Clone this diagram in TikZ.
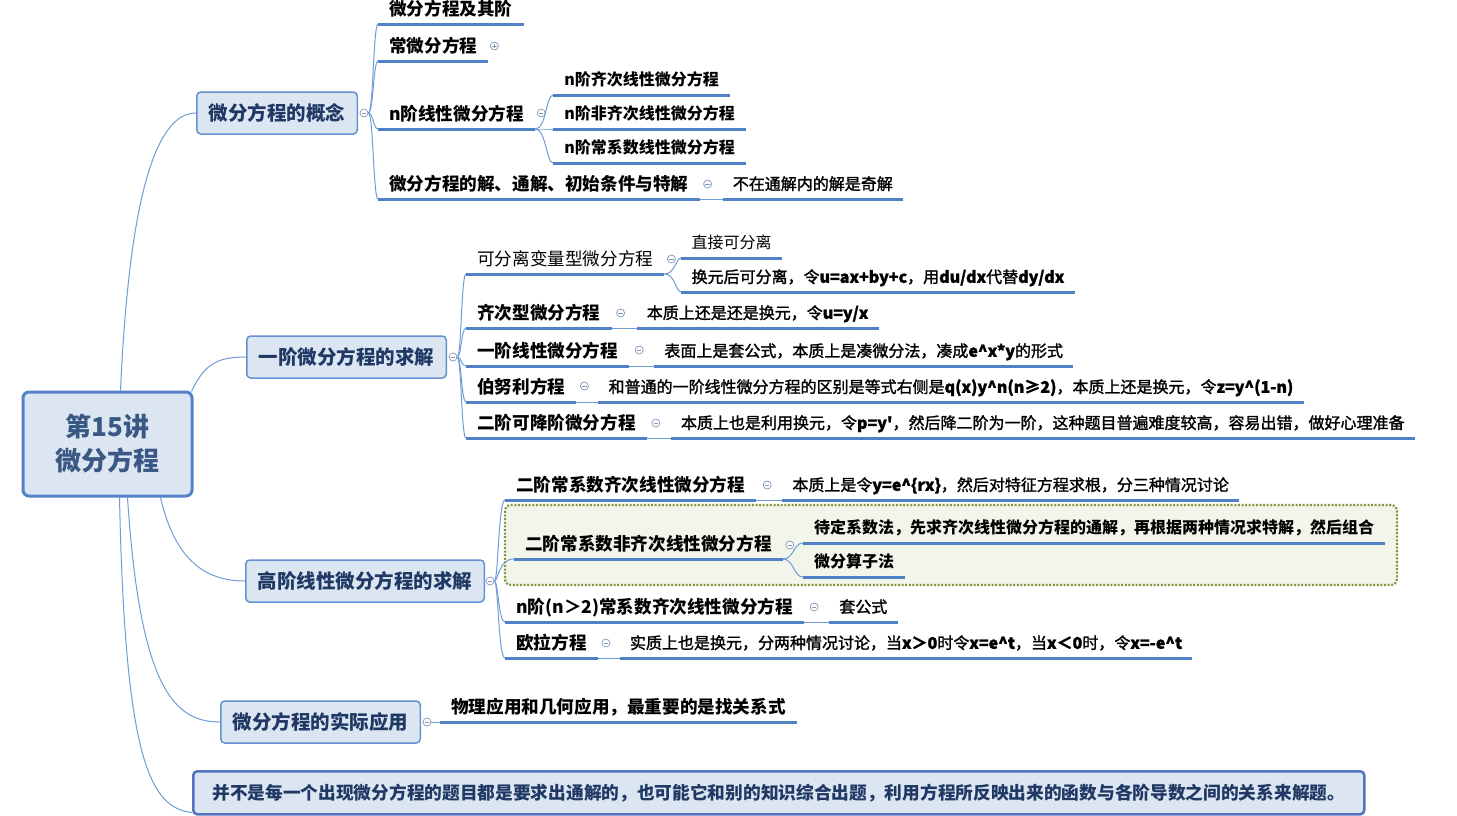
\documentclass[tikz,border=0pt]{standalone}
\usepackage{fontspec}
\newfontfamily\cjk{Noto Sans CJK SC}
\newfontfamily\cjkmed{Noto Sans CJK SC}[FakeBold=1.5]
\usetikzlibrary{calc}

\definecolor{boxfill}{RGB}{220,230,242}
\definecolor{boxline}{RGB}{100,145,208}
\definecolor{ctrline}{RGB}{84,130,200}
\definecolor{ulblue}{RGB}{79,129,196}
\definecolor{connblue}{RGB}{112,156,216}
\definecolor{topictext}{RGB}{32,56,100}
\definecolor{ctrtext}{RGB}{58,88,132}
\definecolor{foldgray}{RGB}{130,150,185}
\definecolor{regline}{RGB}{130,150,60}
\definecolor{regfill}{RGB}{242,245,234}
\definecolor{noteline}{RGB}{85,115,190}

\tikzset{
  ctrbox/.style={draw=ctrline, line width=3pt, fill=boxfill, rounded corners=6pt,
    minimum width=169pt, minimum height=104pt, align=center, text=ctrtext,
    font=\cjk\bfseries\fontsize{26}{34}\selectfont},
  topic/.style={draw=boxline, line width=1.5pt, fill=boxfill, rounded corners=4pt,
    minimum height=42pt, inner xsep=12pt, text=topictext,
    font=\cjk\bfseries\fontsize{19.5}{22}\selectfont},
  head/.style={anchor=south west, inner xsep=11pt, inner ysep=3pt, text height=14pt,
    text depth=5pt, font=\cjk\bfseries\fontsize{17.6}{20}\selectfont},
  headthin/.style={head, font=\cjk\fontsize{17.6}{20}\selectfont},
  sub/.style={head, text height=13pt, text depth=6pt,
    font=\cjk\bfseries\fontsize{16}{19}\selectfont},
  detail/.style={sub, inner xsep=10pt, font=\cjkmed\fontsize{16}{19}\selectfont},
  detailthin/.style={detail, font=\cjk\fontsize{16}{19}\selectfont},
  uline/.style={draw=ulblue, line width=3pt},
  conn/.style={draw=connblue, line width=1pt},
  fold/.style={circle, draw=foldgray, line width=0.7pt, fill=white, minimum size=8pt,
    inner sep=0pt, path picture={\draw[foldgray, line width=0.7pt]
      ([xshift=1.8pt]path picture bounding box.west) -- ([xshift=-1.8pt]path picture bounding box.east);}},
  foldplus/.style={circle, draw=foldgray, line width=0.7pt, fill=white, minimum size=8pt,
    inner sep=0pt, path picture={\draw[foldgray, line width=0.7pt]
      ([xshift=1.8pt]path picture bounding box.west) -- ([xshift=-1.8pt]path picture bounding box.east)
      ([yshift=-1.8pt]path picture bounding box.north) -- ([yshift=1.8pt]path picture bounding box.south);}},
  note/.style={draw=noteline, line width=2.5pt, fill=boxfill, rounded corners=4pt,
    minimum width=1171pt, minimum height=43pt, text=topictext,
    font=\cjk\bfseries\fontsize{17.7}{20}\selectfont},
  region/.style={draw=regline, line width=2.2pt, dash pattern=on 2pt off 1.6pt,
    fill=regfill, rounded corners=6pt},
}

\begin{document}
\begin{tikzpicture}[x=1pt, y=-1pt]
  \useasboundingbox (0,0) rectangle (1457,815);
  \fill[white] (0,0) rectangle (1457,815);

  % underline below a node, and a curved branch from a parent to a child
  \def\underl#1{\draw[uline] (#1.south west) -- (#1.south east);}
  \def\branch#1#2#3{\draw[conn] (#1) .. controls (#2) and (#2 |- #3) .. (#3);}

  % boundary round the non-homogeneous case
  \draw[region] (505,505) rectangle (1397,585);

  % centre and main topics
  \node[ctrbox] (ctr) at (107.5,444) {第15讲\\微分方程};
  \node[topic, anchor=west] (t1) at (196,113) {微分方程的概念};
  \node[topic, anchor=west] (t2) at (246,357) {一阶微分方程的求解};
  \node[topic, anchor=west] (t3) at (245,581) {高阶线性微分方程的求解};
  \node[topic, anchor=west] (t4) at (220,722) {微分方程的实际应用};
  \node[note, anchor=north west] (note) at (192,770)
    {并不是每一个出现微分方程的题目都是要求出通解的，也可能它和别的知识综合出题，利用方程所反映出来的函数与各阶导数之间的关系来解题。};

  \node[fold] (o1) at ($(t1.east)+(6,0)$) {};
  \node[fold] (o2) at ($(t2.east)+(6,0)$) {};
  \node[fold] (o3) at ($(t3.east)+(5,0)$) {};
  \node[fold] (o4) at ($(t4.east)+(6,0)$) {};

  \draw[conn] ($(ctr.north)+(13,0)$) .. controls (130,180) and (160,113) .. (t1.west);
  \draw[conn] ($(ctr.north east)+(-2,1)$) .. controls (205,362) and (220,357) .. (t2.west);
  \draw[conn] ($(ctr.south)+(53,0)$) .. controls (175,560) and (205,581) .. (t3.west);
  \draw[conn] ($(ctr.south)+(20,0)$) .. controls (140,690) and (175,722) .. (t4.west);
  \draw[conn] ($(ctr.south)+(12,0)$) .. controls (125,760) and (150,808) .. ($(note.south west)+(0,-3)$);

  % concepts
  \node[head] (c1a) at (378,24) {微分方程及其阶};
  \node[head] (c1b) at (378,61) {常微分方程};
  \node[head] (c1c) at (378,129) {n阶线性微分方程};
  \node[head] (c1d) at (378,199) {微分方程的解、通解、初始条件与特解};
  \node[foldplus] (f1b) at ($(c1b.south east)+(6,-15)$) {};
  \node[fold] (f1c) at ($(c1c.south east)+(6,-16)$) {};
  \node[fold] (f1d) at ($(c1d.south east)+(8,-15)$) {};
  \node[sub] (c1c1) at ($(c1c.south east)+(18,-34)$) {n阶齐次线性微分方程};
  \node[sub] (c1c2) at ($(c1c.south east)+(18,0)$) {n阶非齐次线性微分方程};
  \node[sub] (c1c3) at ($(c1c.south east)+(18,34)$) {n阶常系数线性微分方程};
  \node[detail] (c1d1) at ($(c1d.south east)+(23,0)$) {不在通解内的解是奇解};

  \coordinate (s1) at ($(o1.east)+(5,0)$);
  \foreach \c in {c1a,c1b,c1c,c1d} \branch{o1.east}{s1}{\c.south west};
  \coordinate (s1c) at ($(c1c.south east)+(11,0)$);
  \foreach \c in {c1c1,c1c2,c1c3} \branch{c1c.south east}{s1c}{\c.south west};
  \draw[conn] (c1d.south east) -- (c1d1.south west);

  % first order
  \node[headthin] (c2a) at (466,274) {可分离变量型微分方程};
  \node[head] (c2b) at (466,328) {齐次型微分方程};
  \node[head] (c2c) at (466,366) {一阶线性微分方程};
  \node[head] (c2d) at (466,402) {伯努利方程};
  \node[head] (c2e) at (466,438) {二阶可降阶微分方程};
  \node[fold] (f2a) at ($(c2a.south east)+(7,-15)$) {};
  \node[fold] (f2b) at ($(c2b.south east)+(9,-15)$) {};
  \node[fold] (f2c) at ($(c2c.south east)+(10,-16)$) {};
  \node[fold] (f2d) at ($(c2d.south east)+(8,-16)$) {};
  \node[fold] (f2e) at ($(c2e.south east)+(9,-15)$) {};
  \node[detailthin] (c2a1) at ($(c2a.south east)+(17,-16)$) {直接可分离};
  \node[detail] (c2a2) at ($(c2a.south east)+(17,18)$) {换元后可分离，令\textbf{u=ax+by+c}，用\textbf{du/dx}代替\textbf{dy/dx}};
  \node[detail] (c2b1) at ($(c2b.south east)+(25,0)$) {本质上还是还是换元，令\textbf{u=y/x}};
  \node[detail] (c2c1) at ($(c2c.south east)+(25,0)$) {表面上是套公式，本质上是凑微分法，凑成\textbf{e\textasciicircum x*y}的形式};
  \node[detail] (c2d1) at ($(c2d.south east)+(22,0)$) {和普通的一阶线性微分方程的区别是等式右侧是\textbf{q(x)y\textasciicircum n(n≥2)}，本质上还是换元，令\textbf{z=y\textasciicircum(1-n)}};
  \node[detail] (c2e1) at ($(c2e.south east)+(24,0)$) {本质上也是利用换元，令\textbf{p=y'}，然后降二阶为一阶，这种题目普遍难度较高，容易出错，做好心理准备};

  \coordinate (s2) at ($(o2.east)+(4,0)$);
  \foreach \c in {c2a,c2b,c2c,c2d,c2e} \branch{o2.east}{s2}{\c.south west};
  \coordinate (s2a) at ($(c2a.south east)+(11,0)$);
  \foreach \c in {c2a1,c2a2} \branch{c2a.south east}{s2a}{\c.south west};
  \foreach \c in {c2b,c2c,c2d,c2e} \draw[conn] (\c.south east) -- (\c1.south west);

  % higher order
  \node[head] (c3a) at (505,500) {二阶常系数齐次线性微分方程};
  \node[head] (c3b) at (514,559) {二阶常系数非齐次线性微分方程};
  \node[head] (c3c) at (505,622) {n阶(n＞2)常系数齐次线性微分方程};
  \node[head] (c3d) at (505,658) {欧拉方程};
  \node[fold] (f3a) at ($(c3a.south east)+(11,-15)$) {};
  \node[fold] (f3b) at ($(c3b.south east)+(7,-14)$) {};
  \node[fold] (f3c) at ($(c3c.south east)+(10,-15)$) {};
  \node[fold] (f3d) at ($(c3d.south east)+(8,-15)$) {};
  \node[detail] (c3a1) at ($(c3a.south east)+(26,0)$) {本质上是令\textbf{y=e\textasciicircum\{rx\}}，然后对特征方程求根，分三种情况讨论};
  \node[sub] (c3b1) at ($(c3b.south east)+(20,-16)$) {待定系数法，先求齐次线性微分方程的通解，再根据两种情况求特解，然后组合};
  \node[sub] (c3b2) at ($(c3b.south east)+(20,18)$) {微分算子法};
  \node[detail] (c3c1) at ($(c3c.south east)+(25,0)$) {套公式};
  \node[detail] (c3d1) at ($(c3d.south east)+(22,0)$) {实质上也是换元，分两种情况讨论，当\textbf{x＞0}时令\textbf{x=e\textasciicircum t}，当\textbf{x＜0}时，令\textbf{x=-e\textasciicircum t}};

  \coordinate (s3) at ($(o3.east)+(4,0)$);
  \foreach \c in {c3a,c3b,c3c,c3d} \branch{o3.east}{s3}{\c.south west};
  \coordinate (s3b) at ($(c3b.south east)+(11,0)$);
  \foreach \c in {c3b1,c3b2} \branch{c3b.south east}{s3b}{\c.south west};
  \foreach \c in {c3a,c3c,c3d} \draw[conn] (\c.south east) -- (\c1.south west);

  % applications
  \node[head] (c4a) at (440,722) {物理应用和几何应用，最重要的是找关系式};
  \draw[conn] (o4.east) -- (c4a.south west);

  \foreach \n in {c1a,c1b,c1c,c1d,c1c1,c1c2,c1c3,c1d1,
                  c2a,c2b,c2c,c2d,c2e,c2a1,c2a2,c2b1,c2c1,c2d1,c2e1,
                  c3a,c3b,c3c,c3d,c3a1,c3b1,c3b2,c3c1,c3d1,c4a} \underl{\n};
\end{tikzpicture}
\end{document}
